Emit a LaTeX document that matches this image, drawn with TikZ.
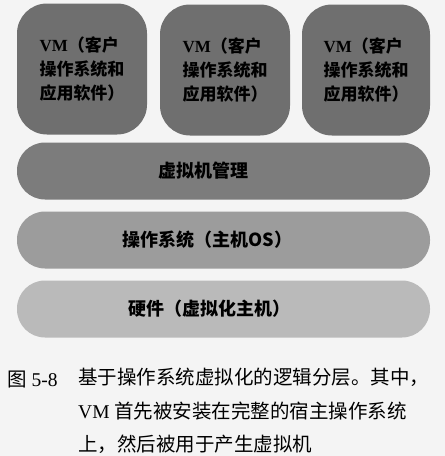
\documentclass[tikz,border=0pt]{standalone}
\usepackage{fontspec}
\setmainfont{Liberation Serif}
\newfontfamily\cjk{Noto Sans CJK SC}
\usetikzlibrary{positioning}

\definecolor{paper}{HTML}{F4F4F4}
\definecolor{vmgray}{HTML}{6F6F6F}
\definecolor{vmmgray}{HTML}{7C7C7C}
\definecolor{osgray}{HTML}{9C9C9C}
\definecolor{hwgray}{HTML}{BABABA}

\tikzset{
  vmbox/.style={fill=vmgray, rounded corners=30pt, minimum width=130pt, minimum height=131pt,
    align=left, font=\fontsize{17}{24}\selectfont\bfseries},
  layer/.style={rounded corners=28pt, minimum width=413pt, minimum height=57pt},
  layertext/.style={font=\cjk\fontsize{18}{22}\selectfont\bfseries},
  captext/.style={font=\fontsize{19.5}{33.5}\selectfont, align=left}
}
\newcommand{\vmlabel}{\textbf{VM}{\cjk（客户}\\{\cjk 操作系统和}\\{\cjk 应用软件）}}

\begin{document}
\begin{tikzpicture}[x=1pt,y=-1pt]
  \fill[paper] (0,0) rectangle (445,456);
  \useasboundingbox (0,0) rectangle (445,456);
  % guest VMs
  \node[vmbox] (vma) at (82,69) {\vmlabel};
  \node[vmbox] (vmb) at (225,70) {\vmlabel};
  \node[vmbox, minimum width=128pt] (vmc) at (366,70) {\vmlabel};
  % layers
  \node[layer, fill=vmmgray] (vmm) at (223.5,171) {};
  \node[layertext] (vmmtext) at ([xshift=-20pt]vmm.center) {虚拟机管理};
  \node[layer, fill=osgray] (hostos) at (223.5,240) {};
  \node[layertext] (hostostext) at ([xshift=-16pt]hostos.center) {操作系统（主机OS）};
  \node[layer, fill=hwgray] (hw) at (223.5,309) {};
  \node[layertext] (hwtext) at ([xshift=-14pt]hw.center) {硬件（虚拟化主机）};
  % caption
  \node[captext, anchor=west, inner sep=0pt] (capnum) at (7,380) {{\cjk 图} 5-8};
  \node[captext, anchor=north west, inner sep=0pt] (captext) at (78,368)
    {{\cjk 基于操作系统虚拟化的逻辑分层。其中，}\\
     VM {\cjk 首先被安装在完整的宿主操作系统}\\
     {\cjk 上，然后被用于产生虚拟机}};
\end{tikzpicture}
\end{document}
